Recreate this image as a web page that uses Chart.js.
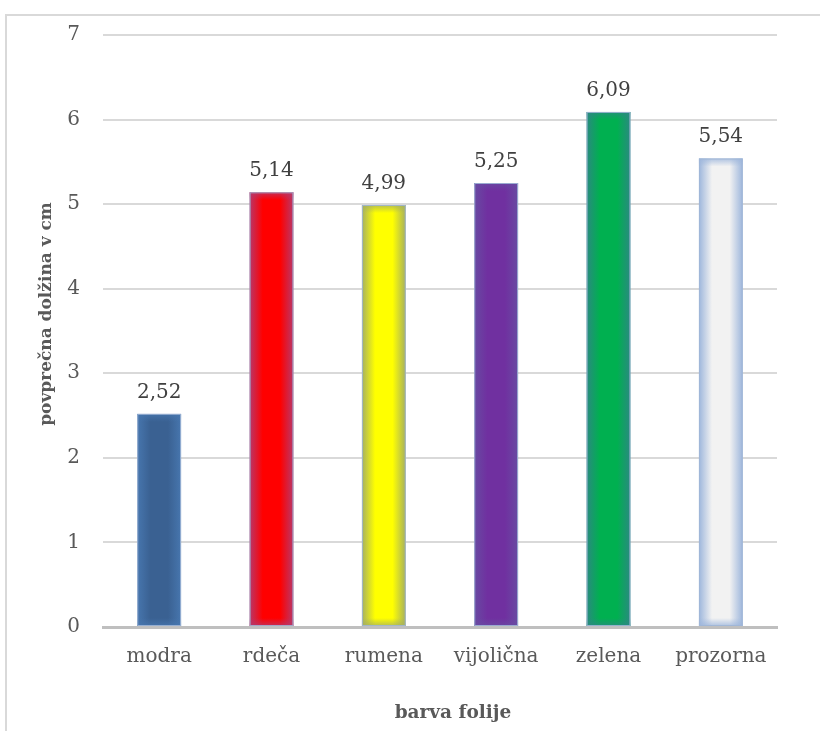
<!DOCTYPE html>
<html>
<head>
<meta charset="utf-8">
<script src="https://cdn.jsdelivr.net/npm/chart.js@4/dist/chart.umd.min.js"></script>
<style>
  html, body { margin: 0; padding: 0; background: #ffffff; overflow: hidden; }
  #frame { position: absolute; left: 5px; top: 14px; width: 900px; height: 800px;
           border: 2px solid #d9d9d9; box-sizing: border-box; }
  #c { position: absolute; left: 0; top: 0; }
</style>
</head>
<body>
<div id="frame"></div>
<canvas id="c" width="820" height="731"></canvas>
<script>
// Mean length per foil colour
const categories = ['modra', 'rdeča', 'rumena', 'vijolična', 'zelena', 'prozorna'];
const meanLength = [2.52, 5.14, 4.99, 5.25, 6.09, 5.54];
const yTicks = [0, 1, 2, 3, 4, 5, 6, 7];

// Fill of each bar: centre colour and the tint towards its edges
const centreColors = ['#3a6192', '#ff0000', '#ffff00', '#7030a0', '#00b050', '#f2f2f2'];
const edgeColors   = ['#4776ae', '#b8386a', '#a6b060', '#684aa2', '#2a8a80', '#9db6dc'];

const BAR_PCT = 0.39;
const SERIF = '"DejaVu Serif", serif';
const TEXT = '#595959';

function barFill(ctx) {
  const chart = ctx.chart;
  const xs = chart.scales.x;
  const i = ctx.dataIndex;
  if (!xs || !chart.chartArea || i === undefined) return centreColors[i || 0];
  const cx = xs.getPixelForValue(i);
  const half = xs.width / categories.length * BAR_PCT / 2;
  const g = chart.ctx.createLinearGradient(cx - half, 0, cx + half, 0);
  g.addColorStop(0, edgeColors[i]);
  g.addColorStop(0.3, centreColors[i]);
  g.addColorStop(0.7, centreColors[i]);
  g.addColorStop(1, edgeColors[i]);
  return g;
}

function withAlpha(hex, a) {
  const n = parseInt(hex.slice(1), 16);
  return `rgba(${(n >> 16) & 255},${(n >> 8) & 255},${n & 255},${a})`;
}

// Soft tint at the top and bottom of each bar, then the value above it
const barDecor = {
  id: 'barDecor',
  afterDatasetsDraw(chart) {
    const c = chart.ctx;
    const meta = chart.getDatasetMeta(0);
    c.save();
    meta.data.forEach((bar, i) => {
      const { x, y, base, width } = bar.getProps(['x', 'y', 'base', 'width'], true);
      const l = x - width / 2;
      const band = 8;
      let g = c.createLinearGradient(0, y, 0, y + band);
      g.addColorStop(0, withAlpha(edgeColors[i], 0.8));
      g.addColorStop(1, withAlpha(edgeColors[i], 0));
      c.fillStyle = g;
      c.fillRect(l, y, width, band);
      g = c.createLinearGradient(0, base, 0, base - band);
      g.addColorStop(0, withAlpha(edgeColors[i], 0.8));
      g.addColorStop(1, withAlpha(edgeColors[i], 0));
      c.fillStyle = g;
      c.fillRect(l, base - band, width, band);
      c.strokeStyle = 'rgba(160,182,214,0.9)';
      c.lineWidth = 1;
      c.strokeRect(l + 0.5, y + 0.5, width - 1, base - y - 1);

      c.fillStyle = '#404040';
      c.font = '20px ' + SERIF;
      c.textAlign = 'center';
      c.textBaseline = 'alphabetic';
      c.fillText(meanLength[i].toFixed(2).replace('.', ','), x, y - 16);
    });
    c.restore();
  }
};

// Axis titles
const axisTitles = {
  id: 'axisTitles',
  afterDraw(chart) {
    const c = chart.ctx;
    const a = chart.chartArea;
    c.save();
    c.fillStyle = TEXT;
    c.textAlign = 'center';
    c.textBaseline = 'middle';
    c.font = 'bold 18.5px ' + SERIF;
    c.fillText('barva folije', (a.left + a.right) / 2 + 13, 713);
    c.translate(47, (a.top + a.bottom) / 2 - 17);
    c.rotate(-Math.PI / 2);
    c.font = 'bold 17px ' + SERIF;
    c.fillText('povprečna dolžina v cm', 0, 0);
    c.restore();
  }
};

new Chart(document.getElementById('c'), {
  type: 'bar',
  data: {
    labels: categories,
    datasets: [{
      data: meanLength,
      backgroundColor: barFill,
      borderWidth: 0,
      barPercentage: BAR_PCT,
      categoryPercentage: 1
    }]
  },
  options: {
    responsive: false,
    animation: false,
    devicePixelRatio: 1,
    layout: { padding: { top: 35, right: 43, left: 0, bottom: 0 } },
    plugins: { legend: { display: false }, tooltip: { enabled: false } },
    scales: {
      x: {
        grid: { display: false, drawTicks: false },
        border: { display: true, color: '#bfbfbf', width: 3 },
        ticks: { color: TEXT, font: { family: SERIF, size: 20 }, padding: 18, maxRotation: 0 },
        afterFit(s) { s.height = 104; }
      },
      y: {
        min: 0,
        max: 7,
        afterBuildTicks(s) { s.ticks = yTicks.map(v => ({ value: v })); },
        grid: { color: '#d9d9d9', lineWidth: 2, drawTicks: false },
        border: { display: false },
        ticks: { color: TEXT, font: { family: SERIF, size: 20 }, padding: 23 },
        afterFit(s) { s.width = 103; }
      }
    }
  },
  plugins: [barDecor, axisTitles]
});
</script>
</body>
</html>
